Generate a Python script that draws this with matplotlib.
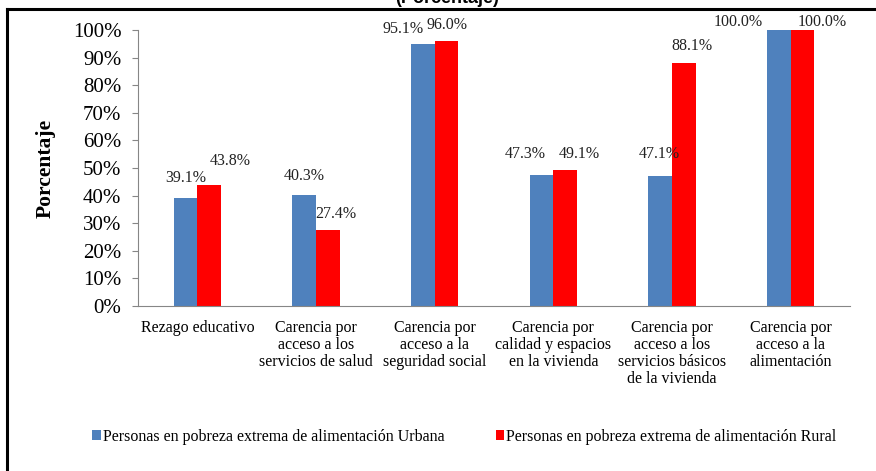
import matplotlib
matplotlib.use("Agg")
import matplotlib.pyplot as plt
from matplotlib.lines import Line2D
import numpy as np

categorias = [
    "Rezago educativo",
    "Carencia por\nacceso a los\nservicios de salud",
    "Carencia por\nacceso a la\nseguridad social",
    "Carencia por\ncalidad y espacios\nen la vivienda",
    "Carencia por\nacceso a los\nservicios básicos\nde la vivienda",
    "Carencia por\nacceso a la\nalimentación",
]
urbana = [39.1, 40.3, 95.1, 47.3, 47.1, 100.0]
rural = [43.8, 27.4, 96.0, 49.1, 88.1, 100.0]
serie_urbana = "Personas en pobreza extrema de alimentación Urbana"
serie_rural = "Personas en pobreza extrema de alimentación Rural"

# label placement (pixels from top centre of each bar), Excel-style nudges
off_urbana = [(0, 20), (0, 19), (-20, 15), (-16, 21), (-1, 22), (-41, 8)]
off_rural = [(21, 24), (8, 16), (0, 16), (14, 16), (8, 17), (20, 8)]

plt.rcParams["font.family"] = ["Liberation Serif", "DejaVu Serif"]

fig = plt.figure(figsize=(8.76, 4.71), dpi=100)
ax = fig.add_axes([138 / 876, 1 - 306 / 471, 712 / 876, 276 / 471])

x = np.arange(len(categorias))
w = 0.2
azul = "#4F81BD"
rojo = "#FF0000"
b1 = ax.bar(x - w / 2, np.array(urbana) / 100, w, color=azul, label=serie_urbana)
b2 = ax.bar(x + w / 2, np.array(rural) / 100, w, color=rojo, label=serie_rural)

for bars, vals, offs in [(b1, urbana, off_urbana), (b2, rural, off_rural)]:
    for bar, v, (dx, dy) in zip(bars, vals, offs):
        ax.annotate(f"{v:.1f}%", (bar.get_x() + bar.get_width() / 2, bar.get_height()),
                    xytext=(dx, dy), textcoords="offset pixels",
                    ha="center", va="center", fontsize=11.5, color="#222222")

ax.set_xlim(-0.5, len(categorias) - 0.5)
ax.set_ylim(0, 1)
ax.set_yticks(np.arange(0, 1.01, 0.1))
ax.set_yticklabels([f"{int(round(t * 100))}%" for t in np.arange(0, 1.01, 0.1)])
ax.tick_params(axis="y", labelsize=15, length=4, color="#868686", pad=8)
ax.set_xticks(x)
ax.set_xticklabels(categorias, fontsize=11.5, linespacing=1.1, va="top")
ax.tick_params(axis="x", length=0, pad=10)

for s in ["top", "right"]:
    ax.spines[s].set_visible(False)
for s in ["left", "bottom"]:
    ax.spines[s].set_color("#868686")
ax.set_ylabel("Porcentaje", fontsize=15.5, fontweight="bold", labelpad=12)

fig.legend(handles=[b1, b2], loc="center", bbox_to_anchor=(0.53, 1 - 437 / 471),
           ncol=2, frameon=False, fontsize=11.5, handlelength=0.55, handleheight=0.6,
           handletextpad=0.1, columnspacing=3.2)

# cropped title and frame of the original figure
fig.text(0.51, 1 - 3 / 471, "(Porcentaje)", ha="center", va="baseline",
         fontsize=13, fontweight="bold", family="Liberation Sans")
fig.add_artist(Line2D([7 / 876, 1], [1 - 9 / 471] * 2, color="black", lw=2.2))
fig.add_artist(Line2D([7 / 876] * 2, [0, 1 - 9 / 471], color="black", lw=2.2))

fig.savefig("out.png", dpi=100)
